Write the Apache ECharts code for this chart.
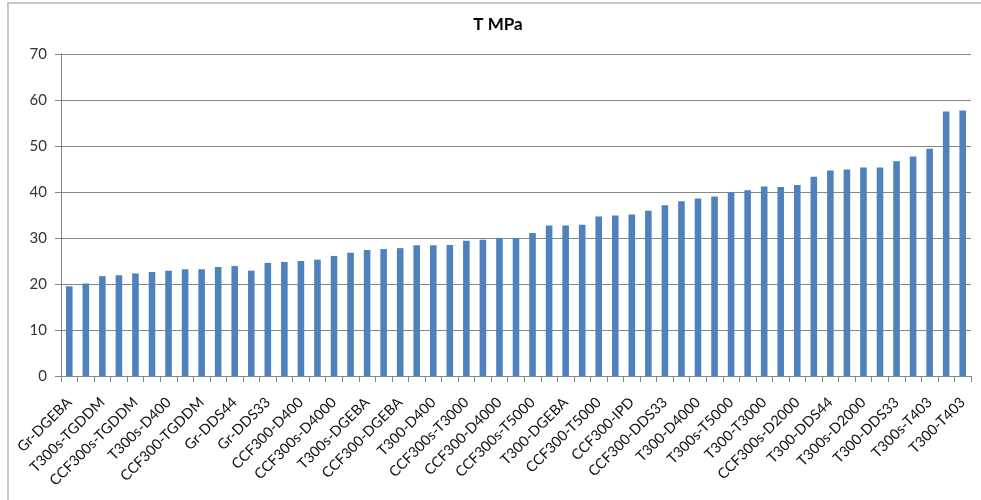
<!DOCTYPE html>
<html>
<head>
<meta charset="utf-8">
<script src="https://cdn.jsdelivr.net/npm/echarts@6/dist/echarts.min.js"></script>
<style>
  html, body { margin: 0; padding: 0; background: #fff; }
  #chart { width: 981px; height: 500px; }
</style>
</head>
<body>
<div id="chart"></div>
<script>
// Specimen names (fibre - resin / hardener), sorted by strength
const specimens = [
  'Gr-DGEBA', 'Gr-TGDDM', 'T300s-TGDDM', 'T300-TGDDM', 'CCF300s-TGDDM',
  'Gr-D400', 'T300s-D400', 'Gr-D2000', 'CCF300-TGDDM', 'Gr-D4000',
  'Gr-DDS44', 'Gr-IPD', 'Gr-DDS33', 'T300s-D4000', 'CCF300-D400',
  'CCF300s-D400', 'CCF300s-D4000', 'T300s-IPD', 'T300s-DGEBA', 'CCF300s-DGEBA',
  'CCF300-DGEBA', 'T300s-DDS44', 'T300-D400', 'CCF300s-IPD', 'CCF300s-T3000',
  'T300s-DDS33', 'CCF300-D4000', 'CCF300s-T403', 'CCF300s-T5000', 'T300-IPD',
  'T300-DGEBA', 'CCF300s-DDS44', 'CCF300-T5000', 'CCF300s-DDS33', 'CCF300-IPD',
  'CCF300-T3000', 'CCF300-DDS33', 'CCF300-D2000', 'T300-D4000', 'CCF300-DDS44',
  'T300s-T5000', 'T300s-T3000', 'T300-T3000', 'T300-D2000', 'CCF300s-D2000',
  'CCF300-T403', 'T300-DDS44', 'T300-T5000', 'T300s-D2000', 'Gr-T403',
  'T300-DDS33', 'Gr-T5000', 'T300s-T403', 'Gr-T3000', 'T300-T403'
];

// Strength T, MPa
const strengthMPa = [
  19.5, 20.1, 21.7, 21.9, 22.3, 22.6, 22.9, 23.2, 23.2, 23.7,
  23.9, 22.9, 24.6, 24.8, 25.0, 25.3, 26.1, 26.8, 27.4, 27.6,
  27.8, 28.4, 28.4, 28.5, 29.4, 29.6, 30.0, 30.0, 31.1, 32.7,
  32.7, 32.9, 34.7, 34.9, 35.1, 35.9, 37.1, 38.0, 38.6, 39.0,
  39.9, 40.4, 41.2, 41.1, 41.5, 43.3, 44.7, 44.9, 45.3, 45.3,
  46.7, 47.7, 49.4, 57.5, 57.7
];

const yTicks = { min: 0, max: 70, step: 10 };

const chart = echarts.init(document.getElementById('chart'), null, { renderer: 'canvas' });
const font = 'Lato, "Open Sans", "Liberation Sans", sans-serif';

chart.setOption({
  animation: false,
  backgroundColor: '#ffffff',
  graphic: [
    {
      // chart frame
      type: 'rect',
      shape: { x: 8, y: 3, width: 1100, height: 600 },
      style: { fill: 'none', stroke: '#c9c9c9', lineWidth: 2 },
      silent: true
    },
    {
      type: 'text',
      x: 498,
      y: 16,
      style: {
        text: 'T MPa',
        textAlign: 'center',
        fontFamily: font,
        fontSize: 17,
        fontWeight: 'bold',
        fill: '#000'
      },
      silent: true
    }
  ],
  grid: { left: 61, right: 10, top: 54, bottom: 124, containLabel: false },
  xAxis: {
    type: 'category',
    data: specimens,
    boundaryGap: true,
    axisLine: { lineStyle: { color: '#868686', width: 1 } },
    axisTick: { show: true, interval: 0, length: 6, lineStyle: { color: '#868686' } },
    axisLabel: {
      interval: 1,
      rotate: 45,
      margin: 24,
      fontFamily: font,
      fontSize: 14.5,
      color: '#111'
    }
  },
  yAxis: {
    type: 'value',
    min: yTicks.min,
    max: yTicks.max,
    interval: yTicks.step,
    axisLine: { show: true, lineStyle: { color: '#868686' } },
    axisTick: { show: true, length: 6, lineStyle: { color: '#868686' } },
    axisLabel: { margin: 14, fontFamily: font, fontSize: 15, color: '#333' },
    splitLine: { lineStyle: { color: '#868686', width: 1 } }
  },
  series: [{
    type: 'bar',
    data: strengthMPa,
    barWidth: 6.6,
    itemStyle: { color: '#4F81BD' }
  }]
});
</script>
</body>
</html>
